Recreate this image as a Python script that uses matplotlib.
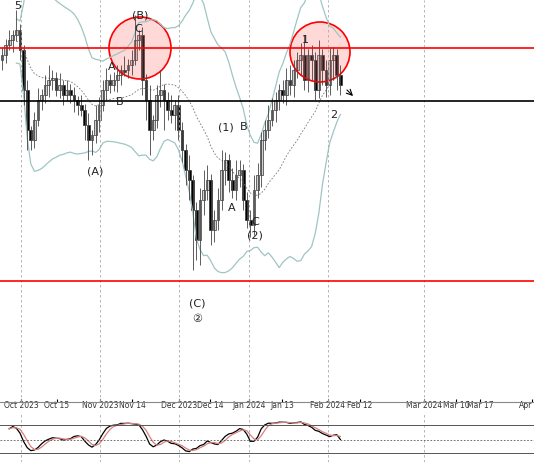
import matplotlib
matplotlib.use("Agg")
import matplotlib.pyplot as plt
from matplotlib.patches import Ellipse
import numpy as np
import pandas as pd

# closes (chart units, pixel-like, higher number = lower price)
closes = [55,45,40,35,30,50, 90,130,140,120, 100,95,85,80,78,90,85,
          95,90,95,100,105,110,125,140,135, 120,105,
          90,80,85,80,75,70,70,65,60,40, 35,80,100,
          130,120,95,90,100,110,115,105, 130,150,170,180,210,
          240,200,190, 180,230,220,200, 170,160,180,190,175,170,
          200,220,225,190, 175,140,130,120,110,100,90,95,80,
          85,70,60,55,80,55,60,90,55,70,85,60,55,75,85]
opens = [60] + closes[:-1]
wick_up = [8,6,10,5,20,6, 5,10,4,8, 12,6,10,15,8,6,12,
           5,10,6,8,4,10,6,12,5, 15,8, 10,12,6,8,10,5,14,6,10,25,
           5,8,6, 15,5,10,20,6,8,15,5, 10,8,6,15,5,
           8,12,20, 15,6,10,12, 20,8,6,12,15,10,
           6,8,10,15, 12,8,10,15,12,8,6,10,12,
           15,10,8,12,20,6,10,8,15,6,10,12,8,6,10]
wick_dn = [10,8,5,12,6,10, 15,20,10,8, 6,10,8,12,10,6,8,
           10,6,8,12,10,6,15,20,15, 8,12, 6,10,8,6,12,10,6,8,10,5,
           10,15,20, 25,10,8,12,30,10,8,15, 10,12,15,20,60,
           20,25,15, 10,15,12,10, 10,15,12,8,10,12,
           10,8,12,10, 8,12,10,8,6,12,10,8,10,
           10,12,8,15,10,12,20,10,8,15,12,10,20,15,10]

tick_pos = [21,57,100,132,179,210,249,282,328,360,424,456,480,532]
tick_lab = ["Oct 2023","Oct 15","Nov 2023","Nov 14","Dec 2023","Dec 14","Jan 2024",
            "Jan 13","Feb 2024","Feb 12","Mar 2024","Mar 10","Mar 17","Apr"]
month_lines = [21,100,179,249,328,424]

fig = plt.figure(figsize=(5.34,4.62), dpi=100)
ax = fig.add_axes([0, 60/462, 1, 402/462])
ax2 = fig.add_axes([0, 0, 1, 50/462])
ax.set_xlim(0,534); ax.set_ylim(402,0)
ax2.set_xlim(0,534); ax2.set_ylim(462,412)

n = len(closes)
xs = 2 + 3.6*np.arange(n)
c = np.array(closes, float); o = np.array(opens, float)
hi = np.minimum(o, c) - np.array(wick_up)
lo = np.maximum(o, c) + np.array(wick_dn)

s = pd.Series(c)
mid = s.rolling(20, min_periods=5).mean()
sd = s.rolling(20, min_periods=5).std()
ax.plot(xs, mid - 2.3*sd, color="#9fc5c3", lw=0.9)
ax.plot(xs, mid + 2.3*sd, color="#9fc5c3", lw=0.9)
ax.plot(xs, mid, color="#777777", lw=0.6, ls=(0,(2,2)))

for x in month_lines:
    ax.axvline(x, color="#aaaaaa", lw=0.6, ls=(0,(3,3)))
    ax2.axvline(x, color="#aaaaaa", lw=0.6, ls=(0,(3,3)))

for i in range(n):
    ax.vlines(xs[i], hi[i], lo[i], color="#444444", lw=0.6)
    top, bot = min(o[i], c[i]), max(o[i], c[i])
    col = "#d0d0d0" if c[i] < o[i] else "black"
    ax.bar(xs[i], max(bot-top, 1.5), bottom=top, width=2.9, color=col,
           edgecolor="#333333", lw=0.5)

ax.axhline(48, color="red", lw=1.2)
ax.axhline(281, color="red", lw=1.2)
ax.axhline(101, color="black", lw=1.2)
for cx, cy, r in [(140,48,31),(320,52,30)]:
    ax.add_patch(Ellipse((cx,cy), 2*r, 2*r, facecolor=(1,0.4,0.4,0.25), edgecolor="red", lw=1.2))
ax.annotate("", xy=(355,98), xytext=(345,88), arrowprops=dict(arrowstyle="->", color="black", lw=0.8))

labels = [("5",18,6),("(B)",140,16),("C",138,29),("A",112,67),("B",120,102),("(A)",95,171),
          ("(1)",226,127),("B",244,127),("A",232,208),("C",255,222),("(2)",255,235),
          ("(C)",197,304),("②",197,319),("1",305,40),("2",334,115)]
for t, x, y in labels:
    ax.text(x, y, t, ha="center", va="center", fontsize=8, color="#222222",
            family=["DejaVu Sans"])

ax.set_xticks(tick_pos)
ax.set_xticklabels(tick_lab, fontsize=5.5, color="#333333")
ax.get_xticklabels()[-1].set_ha("right")
ax.tick_params(axis="x", direction="in", length=2, pad=-1)
ax.set_yticks([])
for sp in ax.spines.values():
    sp.set_visible(False)
ax.spines["bottom"].set_visible(True)
ax.spines["bottom"].set_color("#888888")

# stochastic oscillator
hs = pd.Series(hi); ls = pd.Series(lo)
hh = ls.rolling(14, min_periods=3).max(); ll = hs.rolling(14, min_periods=3).min()
k = ((hh - s) / (hh - ll + 1e-9)).rolling(3, min_periods=1).mean()
d = k.rolling(3, min_periods=1).mean()
ax2.plot(xs, 455 - 35*k, color="black", lw=0.9)
ax2.plot(xs, 455 - 35*d, color="#d98080", lw=0.9)
ax2.axhline(425, color="#555555", lw=0.7)
ax2.axhline(440, color="#555555", lw=0.6, ls=(0,(2,2)))
ax2.axhline(453, color="#555555", lw=0.7)
ax2.set_xticks([]); ax2.set_yticks([])
for sp in ax2.spines.values():
    sp.set_visible(False)

fig.savefig("out.png", dpi=100)
